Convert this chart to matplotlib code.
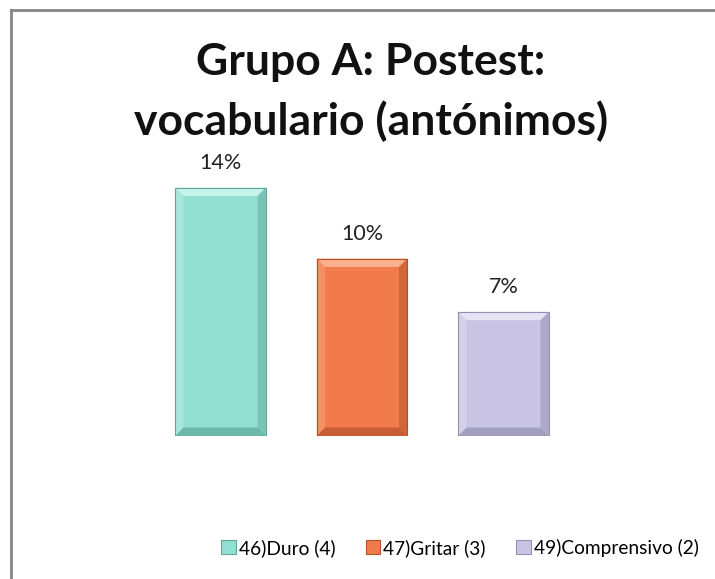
import numpy as np
import matplotlib.pyplot as plt
from matplotlib.patches import Polygon, Rectangle

# data
categories = ["46)Duro (4)", "47)Gritar (3)", "49)Comprensivo (2)"]
values = [14, 10, 7]
labels = ["14%", "10%", "7%"]
colors = ["#93DFD1", "#F27B4C", "#C9C4E4"]
light = ["#C8F3EB", "#F9B08F", "#E6E3F4"]
dark = ["#5FA89A", "#B4512A", "#9490B3"]
title_lines = ["Grupo A: Postest:", "vocabulario (antónimos)"]

plt.rcParams['font.family'] = ['Lato', 'DejaVu Sans']

fig = plt.figure(figsize=(7.15, 5.79), dpi=100)
ax = fig.add_axes([149.75 / 715, (579 - 436) / 579, (574.25 - 149.75) / 715, (436 - 152) / 579])

x = np.arange(len(values))
bars = ax.bar(x, values, width=0.643, color=colors, edgecolor="none", zorder=2)
ax.set_xlim(-0.5, 2.5)
ax.set_ylim(0, 16)

# bevel look on each bar
bx = 0.06
by = bx * 16 / 3 * (424.5 / 284)
for b, lc, dc in zip(bars, light, dark):
    x0, w, h = b.get_x(), b.get_width(), b.get_height()
    x1 = x0 + w
    ax.add_patch(Polygon([[x0, h], [x1, h], [x1 - bx, h - by], [x0 + bx, h - by]],
                         closed=True, color=lc, lw=0, zorder=3))
    ax.add_patch(Polygon([[x0, 0], [x1, 0], [x1 - bx, by], [x0 + bx, by]],
                         closed=True, color=dc, lw=0, zorder=3, alpha=0.7))
    ax.add_patch(Polygon([[x1, 0], [x1, h], [x1 - bx, h - by], [x1 - bx, by]],
                         closed=True, color=dc, lw=0, zorder=3, alpha=0.5))
    ax.add_patch(Polygon([[x0, 0], [x0, h], [x0 + bx, h - by], [x0 + bx, by]],
                         closed=True, color=lc, lw=0, zorder=3, alpha=0.4))
    ax.add_patch(Rectangle((x0, 0), w, h, fill=False, ec=dc, lw=0.8, zorder=4))

for xi, v, lab in zip(x, values, labels):
    ax.annotate(lab, (xi, v), xytext=(0, 13.5), textcoords="offset points",
                ha="center", va="baseline", fontsize=15.5, color="#222222")

ax.axis("off")

for yb, line in zip([75, 135], title_lines):
    fig.text(371 / 715, 1 - yb / 579, line, ha="center", va="baseline", fontsize=32,
             fontweight="bold", color="#111111")

# legend
handles = [Rectangle((0, 0), 1, 1, fc=c, ec=d, lw=0.8) for c, d in zip(colors, dark)]
fig.legend(handles, categories, loc="center", bbox_to_anchor=(460 / 715, 1 - 548 / 579),
           ncol=3, frameon=False, fontsize=13.8, handlelength=0.75, handleheight=0.75,
           handletextpad=0.15, columnspacing=1.6)

# chart border (top and left only visible)
fig.add_artist(plt.Line2D([11.5 / 715, 11.5 / 715], [0, 1 - 9.5 / 579], color="#868686", lw=2))
fig.add_artist(plt.Line2D([11.5 / 715, 1], [1 - 9.5 / 579, 1 - 9.5 / 579], color="#868686", lw=2))

fig.savefig("out.png", dpi=100)
